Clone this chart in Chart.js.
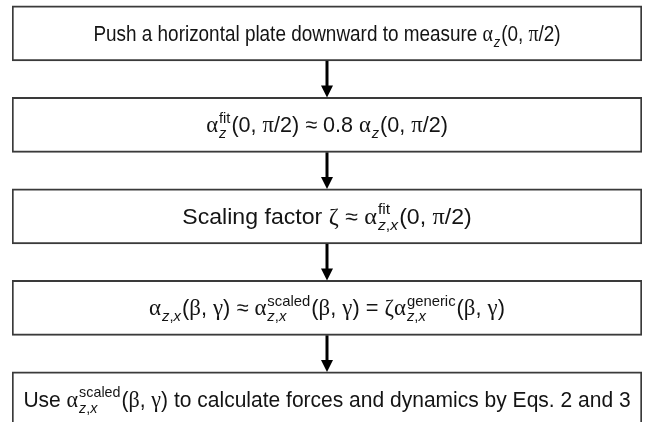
<!DOCTYPE html>
<html>
<head>
<meta charset="utf-8">
<script src="https://cdn.jsdelivr.net/npm/chart.js@4/dist/chart.umd.min.js"></script>
<style>
  html, body { margin: 0; padding: 0; background: #ffffff; }
  #wrap { width: 665px; height: 422px; }
</style>
</head>
<body>
<div id="wrap"><canvas id="c" width="665" height="422"></canvas></div>
<script>
// ---- data ----
const steps = [1, 2, 3, 4, 5];
const stepLabels = [
  "Push a horizontal plate downward to measure α_{z}(0, π/2)",
  "α^{fit}_{z}(0, π/2) ≈ 0.8 α_{z}(0, π/2)",
  "Scaling factor ζ ≈ α^{fit}_{z,x}(0, π/2)",
  "α_{z,x}(β, γ) ≈ α^{scaled}_{z,x}(β, γ) = ζα^{generic}_{z,x}(β, γ)",
  "Use α^{scaled}_{z,x}(β, γ) to calculate forces and dynamics by Eqs. 2 and 3"
];
const boxStart = [0, 0, 0, 0, 0];
const boxEnd = [1, 1, 1, 1, 1];

// ---- text styles (per box) ----
const textSize = [22, 22, 22, 22, 22];
const textStretch = [0.86, 0.98, 1.05, 0.99, 0.955];

// ---- rich text helpers ----
const SANS = '"Liberation Sans", Arial, sans-serif';
const SERIF = '"Liberation Serif", "DejaVu Serif", serif';
const GREEK = 'αβγζπ';

function parseRich(str) {
  const items = [];
  let i = 0;
  while (i < str.length) {
    const ch = str[i];
    if ((ch === '^' || ch === '_') && str[i + 1] === '{') {
      const end = str.indexOf('}', i);
      const content = str.slice(i + 2, end);
      const last = items[items.length - 1];
      if (ch === '^') last.sup = content; else last.sub = content;
      i = end + 1;
      continue;
    }
    const greek = GREEK.indexOf(ch) >= 0;
    const last = items[items.length - 1];
    if (!greek && last && !last.greek && !last.sup && !last.sub) {
      last.text += ch;
    } else {
      items.push({ text: ch, greek: greek });
    }
    i++;
  }
  return items;
}

function scriptWidth(ctx, s, size, italic) {
  let w = 0;
  for (const c of s) {
    const it = italic && /[a-z]/.test(c);
    ctx.font = (it ? 'italic ' : '') + size + 'px ' + SANS;
    w += ctx.measureText(c).width;
  }
  return w;
}
function drawScript(ctx, s, x, y, size, italic) {
  for (const c of s) {
    const it = italic && /[a-z]/.test(c);
    ctx.font = (it ? 'italic ' : '') + size + 'px ' + SANS;
    ctx.fillText(c, x, y);
    x += ctx.measureText(c).width;
  }
}

function layoutRich(ctx, items, size) {
  const ss = Math.round(size * 0.66);
  let w = 0;
  for (const it of items) {
    ctx.font = it.greek ? (size * 1.05) + 'px ' + SERIF : size + 'px ' + SANS;
    it.w = ctx.measureText(it.text).width;
    let sw = 0;
    if (it.sup) sw = Math.max(sw, scriptWidth(ctx, it.sup, ss, false));
    if (it.sub) sw = Math.max(sw, scriptWidth(ctx, it.sub, ss, true));
    it.sw = sw ? sw + 2 : 0;
    w += it.w + it.sw;
  }
  return w;
}

function drawRich(ctx, str, cx, cy, size, stretch) {
  const items = parseRich(str);
  const ss = Math.round(size * 0.66);
  const total = layoutRich(ctx, items, size);
  ctx.save();
  ctx.translate(cx, 0);
  ctx.scale(stretch, 1);
  let x = -total / 2;
  const base = cy + size * 0.33;
  ctx.textBaseline = 'alphabetic';
  ctx.textAlign = 'left';
  ctx.fillStyle = '#141414';
  for (const it of items) {
    ctx.font = it.greek ? (size * 1.05) + 'px ' + SERIF : size + 'px ' + SANS;
    ctx.fillText(it.text, x, base);
    x += it.w;
    if (it.sup) drawScript(ctx, it.sup, x + 1, base - size * 0.42, ss, false);
    if (it.sub) drawScript(ctx, it.sub, x + 1, base + size * 0.28, ss, true);
    x += it.sw;
  }
  ctx.restore();
}

// ---- plugin: text in boxes and arrows between boxes ----
const flowPlugin = {
  id: 'flow',
  afterDatasetsDraw(chart) {
    const ctx = chart.ctx;
    const els = chart.getDatasetMeta(0).data;
    ctx.save();
    // arrows
    for (let k = 0; k < els.length - 1; k++) {
      const a = els[k], b = els[k + 1];
      const x = (a.x + a.base) / 2;
      const y0 = a.y + a.height / 2;
      const y1 = b.y - b.height / 2;
      const head = 12;
      ctx.strokeStyle = '#000';
      ctx.lineWidth = 3;
      ctx.beginPath();
      ctx.moveTo(x, y0);
      ctx.lineTo(x, y1 - head + 1);
      ctx.stroke();
      ctx.fillStyle = '#000';
      ctx.beginPath();
      ctx.moveTo(x - 6, y1 - head);
      ctx.lineTo(x + 6, y1 - head);
      ctx.lineTo(x, y1);
      ctx.closePath();
      ctx.fill();
    }
    // text
    for (let k = 0; k < els.length; k++) {
      const e = els[k];
      drawRich(ctx, stepLabels[k], (e.x + e.base) / 2, e.y, textSize[k], textStretch[k]);
    }
    ctx.restore();
  }
};

new Chart(document.getElementById('c'), {
  type: 'bar',
  data: {
    datasets: [{
      data: steps.map((s, i) => ({ x: [boxStart[i], boxEnd[i]], y: s })),
      backgroundColor: '#ffffff',
      borderColor: '#3a3a3a',
      borderWidth: 2,
      borderSkipped: false,
      barThickness: 55
    }]
  },
  options: {
    indexAxis: 'y',
    responsive: false,
    animation: false,
    layout: { padding: { left: 12, right: 23, top: 0, bottom: 0 } },
    plugins: { legend: { display: false }, tooltip: { enabled: false } },
    scales: {
      x: { type: 'linear', min: 0, max: 1, display: false, offset: false },
      y: { type: 'linear', reverse: true, min: 0.635, max: 5.247, display: false, offset: false }
    }
  },
  plugins: [flowPlugin]
});
</script>
</body>
</html>
